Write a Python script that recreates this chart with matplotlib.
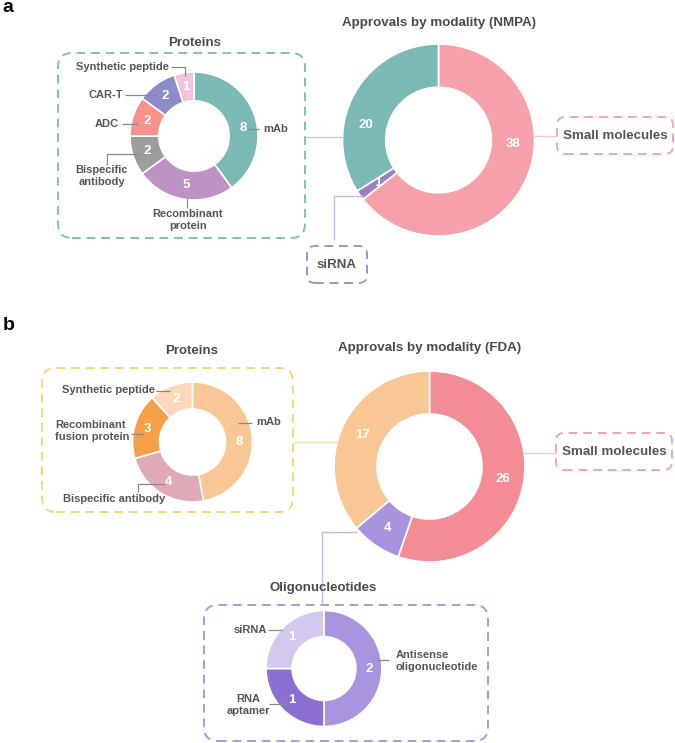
import numpy as np
import matplotlib

matplotlib.use("Agg")

import matplotlib.pyplot as plt
from matplotlib.patches import FancyBboxPatch

plt.rcParams["font.family"] = ["Liberation Sans", "DejaVu Sans"]

W, H = 675, 743

# ---- data -------------------------------------------------------------
nmpa_labels = ["Small molecules", "siRNA", "Proteins"]
nmpa_values = [38, 1, 20]
nmpa_colors = ["#f6a1aa", "#9a80c2", "#7bb9b4"]

nmpa_prot_labels = ["mAb", "Recombinant\nprotein", "Bispecific\nantibody", "ADC", "CAR-T", "Synthetic peptide"]
nmpa_prot_values = [8, 5, 2, 2, 2, 1]
nmpa_prot_colors = ["#7bb9b4", "#bd93c4", "#9d9d9d", "#f6928a", "#8c8ccb", "#f0c5dc"]

fda_labels = ["Small molecules", "Oligonucleotides", "Proteins"]
fda_values = [26, 4, 17]
fda_colors = ["#f38c95", "#a894de", "#f9c795"]

fda_prot_labels = ["mAb", "Bispecific antibody", "Recombinant\nfusion protein", "Synthetic peptide"]
fda_prot_values = [8, 4, 3, 2]
fda_prot_colors = ["#f9c795", "#dfaab6", "#f5a049", "#fbd8ba"]

oligo_labels = ["Antisense\noligonucleotide", "RNA\naptamer", "siRNA"]
oligo_values = [2, 1, 1]
oligo_colors = ["#a994df", "#8b70d2", "#d4c8ee"]

TXT = "#555555"
TITLE = "#4a4a4a"


def Y(py):
    return H - py


def donut(ax, cx, cy, r, values, colors, fs=9.5, hole=0.55, angles=None):
    width = r * (1 - hole)
    wedges, _ = ax.pie(values, colors=colors, radius=r, center=(cx, Y(cy)),
                       startangle=90, counterclock=False,
                       wedgeprops=dict(width=width, edgecolor="white", linewidth=1.2))
    rm = r - width / 2
    for i, (w, v) in enumerate(zip(wedges, values)):
        a = (w.theta1 + w.theta2) / 2
        if angles is not None and angles[i] is not None:
            a = angles[i]
        a = np.deg2rad(a)
        ax.text(cx + rm * np.cos(a), Y(cy) + rm * np.sin(a), str(v),
                ha="center", va="center", color="white", fontsize=fs,
                fontweight="bold", zorder=5)
    return wedges


def box(ax, x0, y0, x1, y1, color, rs=14):
    p = FancyBboxPatch((x0, Y(y1)), x1 - x0, y1 - y0,
                       boxstyle=f"round,pad=0,rounding_size={rs}",
                       fill=False, edgecolor=color, linewidth=1.4,
                       linestyle=(0, (4.5, 3)), zorder=1)
    ax.add_patch(p)


def line(ax, pts, color="#8a8a8a", lw=0.9):
    xs = [p[0] for p in pts]
    ys = [Y(p[1]) for p in pts]
    ax.plot(xs, ys, color=color, lw=lw, zorder=2, solid_capstyle="butt")


def label(ax, x, y, s, ha="left", fs=8, color=TXT, **kw):
    ax.text(x, Y(y), s, ha=ha, va="center", fontsize=fs, fontweight="bold",
            color=color, linespacing=1.15, zorder=6, **kw)


fig = plt.figure(figsize=(W / 100, H / 100), dpi=100)
ax = fig.add_axes([0, 0, 1, 1])

# ---- panel a -----------------------------------------------------------
ax.text(2, Y(7), "a", fontsize=14, fontweight="bold", color="black", va="center")

label(ax, 195, 43, "Proteins", ha="center", fs=9.5, color=TITLE)
box(ax, 58, 53, 305, 238, "#7cc3bb")
donut(ax, 194, 136, 64, nmpa_prot_values, nmpa_prot_colors, angles=[9, None, None, None, None, None])
label(ax, 169, 67, nmpa_prot_labels[5], ha="right")
line(ax, [(171, 67), (185, 67), (185, 76)])
label(ax, 123, 95, nmpa_prot_labels[4], ha="right")
line(ax, [(125, 95), (157, 95)])
label(ax, 119, 124, nmpa_prot_labels[3], ha="right")
line(ax, [(122, 124), (138, 124)])
label(ax, 102, 176, nmpa_prot_labels[2], ha="center")
line(ax, [(107, 165), (107, 154), (138, 154)])
label(ax, 188, 220, nmpa_prot_labels[1], ha="center")
line(ax, [(187, 198), (187, 208)])
label(ax, 263, 129, nmpa_prot_labels[0])
line(ax, [(247, 129), (259, 129)])

label(ax, 439, 23, "Approvals by modality (NMPA)", ha="center", fs=9.6, color=TITLE)
donut(ax, 438.5, 140, 96, nmpa_values, nmpa_colors, angles=[-3, None, 168])
line(ax, [(305, 137), (343, 137)], color="#a9d6d1", lw=1.0)
line(ax, [(534, 136), (557, 136)], color="#f9c2c7", lw=1.0)
line(ax, [(363, 196), (334, 196), (334, 240)], color="#c7b8e2", lw=1.0)
box(ax, 557, 117, 673, 154, "#f5a5ad", rs=8)
label(ax, 615, 136, nmpa_labels[0], ha="center", fs=9.6)
box(ax, 307, 246, 367, 283, "#a58fd0", rs=8)
label(ax, 337, 264.5, nmpa_labels[1], ha="center", fs=9.6)

# ---- panel b -----------------------------------------------------------
ax.text(3, Y(326), "b", fontsize=14, fontweight="bold", color="black", va="center")

label(ax, 192, 351, "Proteins", ha="center", fs=9.5, color=TITLE)
box(ax, 42, 368, 293, 512, "#f7d57c")
donut(ax, 192.5, 442, 60, fda_prot_values, fda_prot_colors, angles=[0, None, None, None])
label(ax, 155, 390, fda_prot_labels[3], ha="right")
line(ax, [(156, 391), (170, 391)])
label(ax, 55, 431, fda_prot_labels[2], ha="left")
line(ax, [(131, 434), (143, 434)])
label(ax, 63, 499, fda_prot_labels[1], ha="left")
line(ax, [(138, 492), (138, 484), (165, 484)])
label(ax, 256, 422, fda_prot_labels[0])
line(ax, [(238, 423), (252, 423)])

label(ax, 430, 348, "Approvals by modality (FDA)", ha="center", fs=9.6, color=TITLE)
donut(ax, 429.5, 466.5, 95.5, fda_values, fda_colors)
line(ax, [(293, 442), (338, 442)], color="#fbdab8", lw=1.0)
line(ax, [(524, 453), (556, 453)], color="#f9c2c7", lw=1.0)
box(ax, 556, 433, 672, 470, "#f5a5ad", rs=8)
label(ax, 614, 452, fda_labels[0], ha="center", fs=9.6)
line(ax, [(357, 532), (322, 532), (322, 605)], color="#c5b7ee", lw=1.0)

label(ax, 323, 588, "Oligonucleotides", ha="center", fs=9.5, color=TITLE)
box(ax, 204, 605, 488, 741, "#aa98e6")
donut(ax, 324, 668.5, 58, oligo_values, oligo_colors)
label(ax, 267, 630, oligo_labels[2], ha="right")
line(ax, [(268, 630), (282, 630)])
label(ax, 396, 661, oligo_labels[0], ha="left")
line(ax, [(376, 660), (389, 660)])
label(ax, 248, 705, oligo_labels[1], ha="center")
line(ax, [(269, 704), (285, 704)])

ax.set_xlim(0, W)
ax.set_ylim(0, H)
ax.set_aspect("equal")
ax.axis("off")

fig.savefig("out.png", dpi=100, facecolor="white")
